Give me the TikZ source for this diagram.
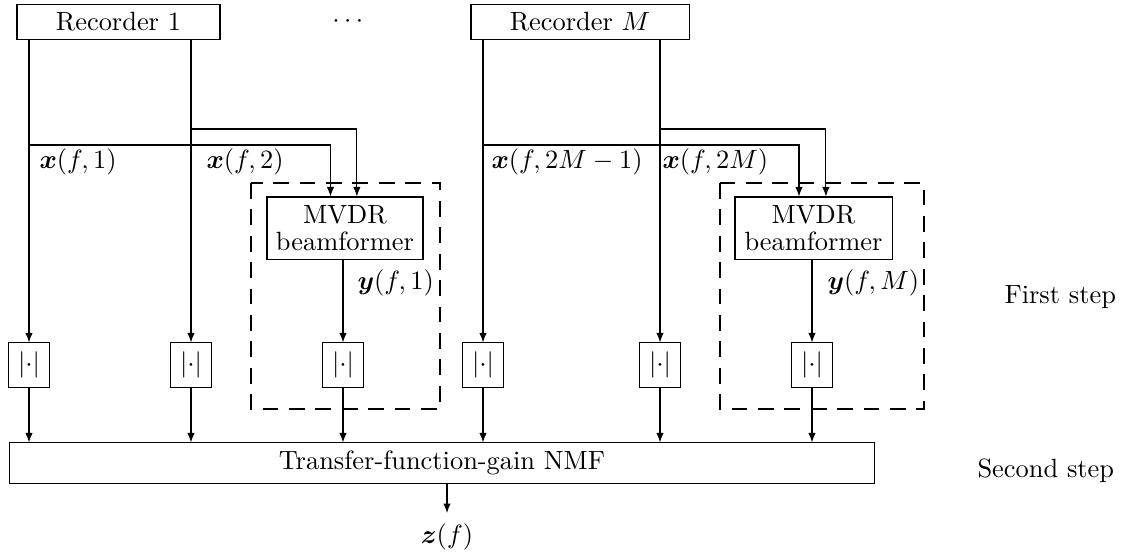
\documentclass[tikz,border=0pt]{standalone}
\usepackage{amsmath,bm}
\usetikzlibrary{arrows.meta}
\begin{document}
\begin{tikzpicture}[x=0.3788pt,y=-0.3788pt,
  box/.style={draw,inner sep=0pt,align=center},
  absbox/.style={draw,inner sep=0pt,minimum width=15.2pt,minimum height=16.7pt},
  lbl/.style={inner sep=0pt,anchor=west},
  arr/.style={-{Latex[length=3.6pt,width=2.8pt]}},
  dashbox/.style={draw,dash pattern=on 6pt off 4pt},
  line width=0.4pt]
\useasboundingbox (0,0) rectangle (1123,559);
% recorders
\node[box,minimum width=76.9pt,minimum height=13.6pt] (rec1) at (118.5,22) {Recorder 1};
\node[box,minimum width=82.6pt,minimum height=13.6pt] (recM) at (580,22) {Recorder $M$};
\node[inner sep=0pt] (dots) at (350,22) {$\cdots$};
% MVDR
\node[box,minimum width=59.1pt,minimum height=23.5pt] (mv1) at (345,228) {MVDR\\[-2pt]beamformer};
\node[box,minimum width=59.5pt,minimum height=23.5pt] (mv2) at (813.5,228) {MVDR\\[-2pt]beamformer};
% dashed groups
\draw[dashbox] (251,183) rectangle (440,409);
\draw[dashbox] (720,183) rectangle (924,409);
% abs boxes
\node[absbox] (a1) at (29,365) {$|{\cdot}|$};
\node[absbox] (a2) at (191,365) {$|{\cdot}|$};
\node[absbox] (a3) at (343,365) {$|{\cdot}|$};
\node[absbox] (a4) at (483,365) {$|{\cdot}|$};
\node[absbox] (a5) at (660,365) {$|{\cdot}|$};
\node[absbox] (a6) at (812,365) {$|{\cdot}|$};
% NMF
\node[box,minimum width=328pt,minimum height=15.2pt] (nmf) at (442,463) {Transfer-function-gain NMF};
\coordinate (zend) at (447,513);
\node[inner sep=0pt] (z) at (447,537) {$\bm{z}(f)$};
% step labels
\node[inner sep=0pt,anchor=base west] (s1) at (1004,303) {First step};
\node[inner sep=0pt,anchor=base west] (s2) at (977,477) {Second step};
% coordinates for branches
\coordinate (b1) at (29,145);
\coordinate (b2) at (191,129);
\coordinate (b4) at (483,145);
\coordinate (b5) at (660,129);
% recorder 1 channels
\draw[arr] (rec1.south -| a1) -- (a1.north);
\draw[arr] (rec1.south -| a2) -- (a2.north);
\draw[arr] (b1) -| ([xshift=-5.5pt]mv1.north);
\draw[arr] (b2) -| ([xshift=4.5pt]mv1.north);
\draw[arr] (mv1.south -| a3) -- (a3.north);
% recorder M channels
\draw[arr] (recM.south -| a4) -- (a4.north);
\draw[arr] (recM.south -| a5) -- (a5.north);
\draw[arr] (b4) -| ([xshift=-5.5pt]mv2.north);
\draw[arr] (b5) -| ([xshift=4.7pt]mv2.north);
\draw[arr] (mv2.south -| a6) -- (a6.north);
% to NMF
\foreach \n in {a1,a2,a3,a4,a5,a6}{
  \draw[arr] (\n.south) -- (nmf.north -| \n);
}
\draw[arr] (nmf.south -| zend) -- (zend);
% labels
\node[lbl] (l1) at (39,162) {$\bm{x}(f,1)$};
\node[lbl] (l2) at (206,162) {$\bm{x}(f,2)$};
\node[lbl] (l3) at (491,162) {$\bm{x}(f,2M-1)$};
\node[lbl] (l4) at (662,162) {$\bm{x}(f,2M)$};
\node[lbl] (l5) at (357,283) {$\bm{y}(f,1)$};
\node[lbl] (l6) at (827,283) {$\bm{y}(f,M)$};
\end{tikzpicture}
\end{document}
